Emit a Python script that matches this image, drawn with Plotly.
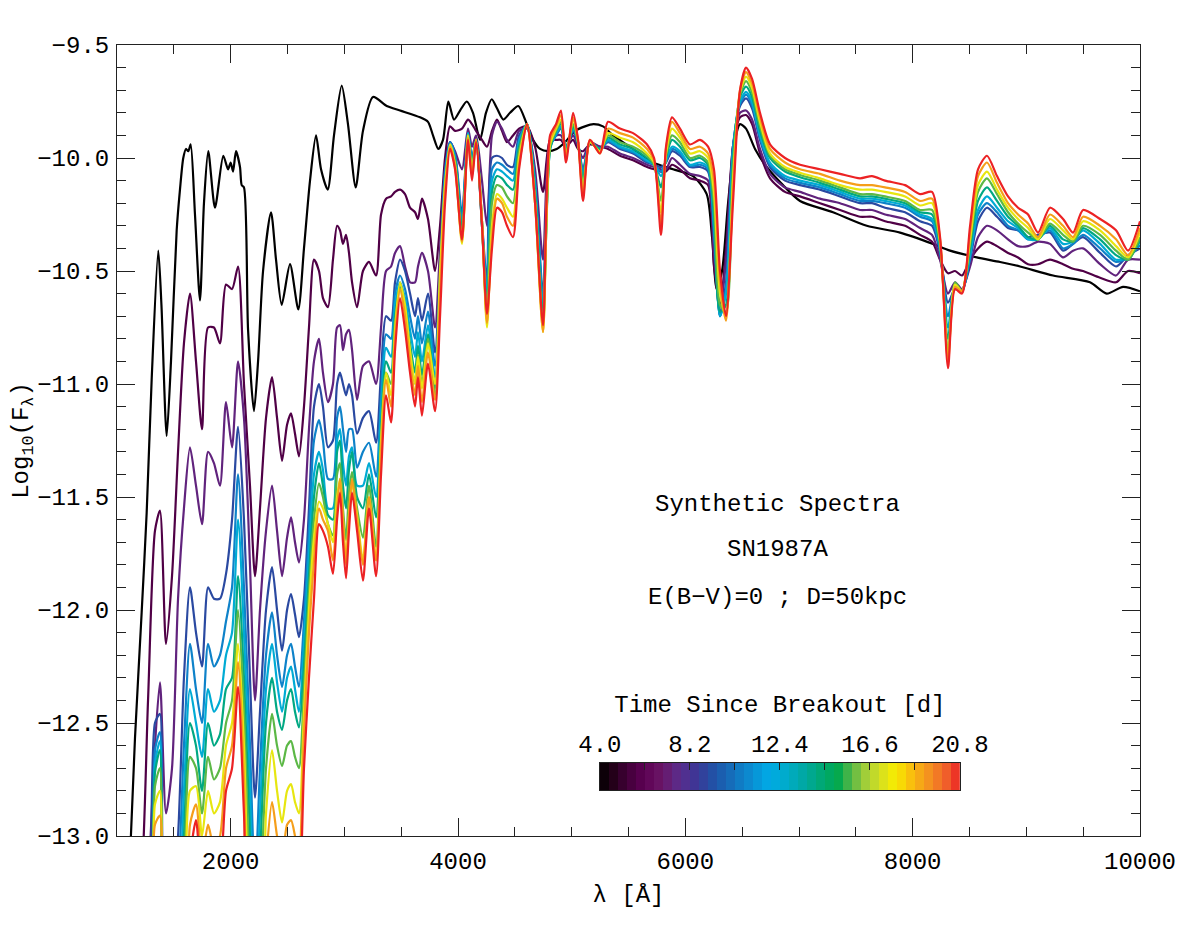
import numpy as np
import plotly.graph_objects as go
from plotly.colors import sample_colorscale

# epochs [days since shock breakout]
days = [4.0, 5.68, 7.36, 9.04, 10.72, 12.4, 14.08, 15.76, 17.44, 19.12, 20.8]

# first epoch (black) has its own sampling
wave_black = [1114, 1158, 1217, 1261, 1305, 1363, 1391, 1437, 1475, 1525,
              1554, 1583, 1607, 1627, 1648, 1686, 1730, 1765, 1803, 1862,
              1935, 1977, 2000, 2021, 2047, 2082, 2097, 2117, 2153, 2205,
              2241, 2285, 2355, 2399, 2449, 2522, 2595, 2645, 2698, 2751,
              2795, 2854, 2909, 2977, 3032, 3100, 3164, 3252, 3373, 3490,
              3666, 3736, 3780, 3827, 3868, 3915, 3965, 4018, 4077, 4132,
              4194, 4246, 4297, 4343, 4399, 4458, 4531, 4605, 4660, 4722,
              4792, 4868, 4941, 5029, 5117, 5191, 5276, 5364, 5540, 5716,
              5892, 6068, 6188, 6235, 6276, 6323, 6376, 6437, 6481, 6534,
              6613, 6716, 6859, 7009, 7299, 7596, 7889, 8179, 8329, 8564,
              8769, 8945, 9235, 9560, 9707, 9851, 10000]
flux_black = [-13.1, -12.57, -12.01, -11.57, -10.98, -10.41, -10.65, -11.23, -10.9, -10.32,
              -10.14, -10.0, -9.96, -9.97, -9.94, -10.25, -10.63, -10.2, -9.97, -10.22,
              -9.99, -10.05, -10.02, -10.06, -9.97, -10.04, -10.12, -10.13, -10.76, -11.12,
              -10.9, -10.5, -10.24, -10.45, -10.65, -10.47, -10.67, -10.4, -10.1, -9.9,
              -10.05, -10.14, -9.9, -9.68, -9.85, -10.13, -9.88, -9.73, -9.77, -9.79,
              -9.82, -9.84, -9.9, -9.96, -9.92, -9.75, -9.83, -9.79, -9.75, -9.8,
              -9.92, -9.8, -9.74, -9.78, -9.83, -9.8, -9.77, -9.85, -9.92, -9.96,
              -9.97, -9.96, -9.93, -9.88, -9.86, -9.85, -9.86, -9.9, -9.96, -10.02,
              -10.05, -10.08, -10.16, -10.35, -10.58, -10.5, -10.2, -9.92, -9.85, -9.87,
              -9.96, -10.04, -10.12, -10.19, -10.24, -10.3, -10.33, -10.38, -10.41, -10.44,
              -10.46, -10.48, -10.52, -10.55, -10.6, -10.57, -10.59]

# wavelength grid [A] shared by the later epochs
wave = [1114, 1202, 1273, 1334, 1378, 1431, 1484, 1537, 1589, 1642,
        1695, 1748, 1801, 1853, 1906, 1959, 2012, 2065, 2117, 2170,
        2214, 2258, 2311, 2364, 2408, 2452, 2496, 2531, 2566, 2601,
        2645, 2689, 2733, 2777, 2812, 2856, 2900, 2936, 2962, 2988,
        3015, 3041, 3068, 3112, 3164, 3217, 3279, 3323, 3367, 3411,
        3446, 3490, 3534, 3578, 3622, 3648, 3683, 3736, 3798, 3842,
        3886, 3930,
        3974, 4035, 4088, 4123, 4159, 4211, 4255, 4299, 4343, 4387,
        4431, 4484, 4537, 4607, 4678, 4748, 4810, 4862, 4906, 4950,
        5012, 5056, 5100, 5161, 5249, 5320, 5425, 5540, 5663, 5725,
        5786, 5830, 5883, 5953, 6041, 6129, 6200, 6252, 6305, 6358,
        6419, 6481, 6534, 6587, 6657, 6745, 6877, 7009, 7185, 7361,
        7537, 7642, 7757, 7933, 8065, 8170, 8241, 8311, 8373, 8434,
        8505, 8575, 8654, 8742, 8839, 8927, 9015, 9103, 9208, 9323,
        9411, 9499, 9649, 9789, 9895, 10000]

# log10 flux, one list per epoch (uv part + near-uv part + optical part)
flux_d05_7 = ([-13.5, -13.3, -12.4, -11.65, -11.56, -12.15, -11.85, -11.3, -10.82, -10.6,
               -10.9, -11.2, -10.75, -10.75, -10.82, -10.56, -10.58, -10.48, -11.0, -11.45,
               -11.85, -11.55, -11.15, -10.97, -11.15, -11.34, -11.18, -11.13, -11.22, -11.32]
              + [-11.1, -10.75, -10.45, -10.5, -10.62, -10.66, -10.45, -10.3, -10.32, -10.38,
                 -10.34, -10.42, -10.55, -10.66, -10.5, -10.46, -10.52, -10.25, -10.18, -10.17,
                 -10.15, -10.14, -10.16, -10.22, -10.24, -10.27, -10.18, -10.27, -10.5, -10.3,
                 -10.0, -9.86]
              + [-9.88, -9.87, -9.83, -9.85, -9.88, -9.92, -9.95, -9.88, -9.83, -9.88,
                 -9.93, -9.9, -9.87, -9.86, -9.95, -10.15, -9.92, -9.92, -9.92, -9.95,
                 -9.92, -9.96, -9.97, -9.94, -9.95, -9.96, -9.99, -10.01, -10.04, -10.05,
                 -10.06, -10.06, -10.03, -10.05, -10.09, -10.1, -10.12, -10.48, -10.65, -10.4,
                 -9.95, -9.82, -9.81, -9.85, -9.98, -10.09, -10.15, -10.17, -10.2, -10.23,
                 -10.26, -10.26, -10.28, -10.3, -10.34, -10.37, -10.45, -10.51, -10.5, -10.52,
                 -10.45, -10.4, -10.37, -10.39, -10.42, -10.44, -10.47, -10.47, -10.45, -10.47,
                 -10.49, -10.5, -10.53, -10.55, -10.5, -10.51])

flux_d07_4 = ([-13.5, -13.5, -13.2, -12.6, -12.32, -12.9, -12.7, -11.95, -11.55, -11.28,
               -11.45, -11.62, -11.3, -11.35, -11.45, -11.08, -11.28, -10.9, -11.15, -11.8,
               -12.4, -12.0, -11.65, -11.45, -11.65, -11.85, -11.68, -11.59, -11.7, -11.79]
              + [-11.6, -11.2, -10.9, -10.8, -10.95, -11.08, -11.0, -10.75, -10.74, -10.85,
                 -10.78, -10.76, -10.85, -11.07, -10.92, -10.9, -11.0, -10.75, -10.5, -10.48,
                 -10.42, -10.39, -10.48, -10.55, -10.55, -10.48, -10.42, -10.5, -10.75, -10.4,
                 -10.05, -9.93]
              + [-9.97, -10.05, -9.87, -9.95, -9.9, -10.1, -10.3, -9.9, -9.84, -9.87,
                 -9.92, -9.95, -9.88, -9.87, -10.05, -10.45, -9.92, -9.9, -9.9, -9.95,
                 -9.9, -9.95, -10.0, -9.93, -9.95, -9.95, -9.98, -10.0, -10.03, -10.04,
                 -10.05, -10.05, -10.0, -10.03, -10.07, -10.08, -10.1, -10.42, -10.68, -10.45,
                 -9.95, -9.8, -9.79, -9.83, -9.96, -10.07, -10.13, -10.15, -10.18, -10.2,
                 -10.23, -10.23, -10.25, -10.27, -10.31, -10.34, -10.45, -10.6, -10.55, -10.58,
                 -10.48, -10.35, -10.3, -10.32, -10.36, -10.39, -10.39, -10.37, -10.38, -10.44,
                 -10.41, -10.4, -10.47, -10.52, -10.45, -10.45])

flux_d09_0 = ([-13.5, -13.5, -13.4, -12.5, -12.46, -13.3, -13.3, -13.0, -12.3, -11.9,
               -12.1, -12.25, -11.9, -11.95, -11.95, -11.84, -11.6, -11.19, -11.6, -12.3,
               -12.83, -12.45, -12.0, -11.81, -12.0, -12.18, -12.0, -11.93, -12.02, -12.12]
              + [-11.95, -11.55, -11.1, -11.0, -11.1, -11.28, -11.25, -11.0, -10.95, -11.0,
                 -11.05, -11.0, -11.05, -11.22, -11.15, -11.12, -11.26, -10.95, -10.7, -10.72,
                 -10.55, -10.45, -10.5, -10.6, -10.7, -10.62, -10.72, -10.6, -10.86, -10.5,
                 -10.05, -9.93]
              + [-9.98, -10.25, -9.89, -10.0, -9.92, -10.28, -10.55, -10.0, -9.99, -10.0,
                 -10.03, -10.04, -9.9, -9.86, -10.1, -10.6, -9.95, -9.9, -9.87, -9.95,
                 -9.88, -9.94, -10.05, -9.93, -9.96, -9.93, -9.96, -9.98, -10.02, -10.03,
                 -10.04, -10.02, -9.97, -9.99, -10.04, -10.04, -10.06, -10.35, -10.7, -10.55,
                 -9.95, -9.77, -9.736, -9.78, -9.92, -10.04, -10.1, -10.12, -10.14, -10.17,
                 -10.2, -10.2, -10.22, -10.24, -10.28, -10.3, -10.42, -10.64, -10.58, -10.59,
                 -10.45, -10.28, -10.22, -10.26, -10.31, -10.32, -10.35, -10.34, -10.33, -10.41,
                 -10.38, -10.35, -10.42, -10.48, -10.43, -10.4])

flux_d10_7 = ([-13.5, -13.5, -13.5, -12.62, -12.54, -13.4, -13.4, -13.2, -12.6, -12.15,
               -12.35, -12.5, -12.15, -12.25, -12.2, -12.05, -11.9, -11.4, -11.9, -12.6,
               -13.2, -12.7, -12.2, -12.01, -12.2, -12.34, -12.2, -12.15, -12.25, -12.34]
              + [-12.05, -11.65, -11.25, -11.16, -11.25, -11.42, -11.42, -11.15, -11.1, -11.2,
                 -11.3, -11.2, -11.2, -11.37, -11.3, -11.26, -11.41, -11.05, -10.78, -10.8,
                 -10.6, -10.52, -10.58, -10.7, -10.8, -10.7, -10.82, -10.68, -10.92, -10.52,
                 -10.07, -9.93]
              + [-9.99, -10.28, -9.89, -10.01, -9.92, -10.29, -10.59, -10.05, -10.02, -10.03,
                 -10.05, -10.07, -9.92, -9.85, -10.11, -10.63, -9.95, -9.9, -9.865, -9.955,
                 -9.875, -9.935, -10.065, -9.93, -9.96, -9.925, -9.955, -9.975, -10.015, -10.03,
                 -10.06, -10.015, -9.96, -9.98, -10.035, -10.03, -10.05, -10.32, -10.7, -10.58,
                 -9.96, -9.76, -9.72, -9.765, -9.91, -10.03, -10.09, -10.11, -10.13, -10.16,
                 -10.19, -10.19, -10.2, -10.22, -10.26, -10.28, -10.41, -10.7, -10.57, -10.59,
                 -10.44, -10.25, -10.2, -10.24, -10.3, -10.32, -10.36, -10.35, -10.32, -10.4,
                 -10.38, -10.34, -10.4, -10.46, -10.44, -10.385])

flux_d12_4 = ([-13.5, -13.5, -13.5, -12.68, -12.58, -13.5, -13.5, -13.4, -12.8, -12.35,
               -12.5, -12.65, -12.35, -12.45, -12.4, -12.2, -12.1, -11.6, -12.1, -12.8,
               -13.4, -12.9, -12.35, -12.15, -12.32, -12.45, -12.3, -12.25, -12.35, -12.45]
              + [-12.15, -11.75, -11.4, -11.3, -11.38, -11.55, -11.55, -11.25, -11.2, -11.35,
                 -11.45, -11.32, -11.28, -11.45, -11.45, -11.35, -11.5, -11.12, -10.84, -10.88,
                 -10.65, -10.55, -10.62, -10.76, -10.88, -10.77, -10.9, -10.74, -10.97, -10.55,
                 -10.09, -9.94]
              + [-10.0, -10.3, -9.89, -10.02, -9.92, -10.3, -10.62, -10.1, -10.05, -10.06,
                 -10.08, -10.1, -9.93, -9.85, -10.12, -10.66, -9.96, -9.89, -9.86, -9.96,
                 -9.87, -9.93, -10.08, -9.93, -9.96, -9.92, -9.95, -9.97, -10.01, -10.03,
                 -10.08, -10.01, -9.95, -9.97, -10.03, -10.02, -10.04, -10.3, -10.7, -10.6,
                 -9.97, -9.75, -9.707, -9.75, -9.9, -10.02, -10.08, -10.1, -10.12, -10.15,
                 -10.18, -10.18, -10.19, -10.21, -10.25, -10.27, -10.4, -10.75, -10.57, -10.59,
                 -10.43, -10.23, -10.17, -10.22, -10.28, -10.31, -10.36, -10.36, -10.31, -10.38,
                 -10.37, -10.32, -10.38, -10.45, -10.44, -10.37])

flux_d14_1 = ([-13.5, -13.5, -13.5, -12.72, -12.62, -13.5, -13.5, -13.5, -13.0, -12.5,
               -12.6, -12.8, -12.5, -12.6, -12.55, -12.35, -12.3, -11.85, -12.3, -13.0,
               -13.5, -13.1, -12.5, -12.3, -12.45, -12.53, -12.4, -12.35, -12.45, -12.52]
              + [-12.25, -11.85, -11.5, -11.35, -11.45, -11.58, -11.6, -11.3, -11.25, -11.45,
                 -11.55, -11.38, -11.3, -11.5, -11.55, -11.4, -11.59, -11.2, -10.9, -10.95,
                 -10.7, -10.57, -10.66, -10.82, -10.95, -10.83, -10.96, -10.78, -11.02, -10.58,
                 -10.11, -9.95]
              + [-10.01, -10.32, -9.9, -10.03, -9.92, -10.3, -10.68, -10.15, -10.08, -10.09,
                 -10.12, -10.14, -9.95, -9.85, -10.15, -10.7, -9.96, -9.88, -9.85, -9.97,
                 -9.86, -9.93, -10.1, -9.93, -9.96, -9.91, -9.94, -9.96, -10.0, -10.03,
                 -10.13, -10.0, -9.92, -9.95, -10.01, -10.0, -10.03, -10.25, -10.68, -10.65,
                 -10.0, -9.73, -9.684, -9.73, -9.88, -10.0, -10.06, -10.085, -10.11, -10.14,
                 -10.17, -10.17, -10.18, -10.2, -10.24, -10.25, -10.39, -10.8, -10.56, -10.59,
                 -10.4, -10.19, -10.13, -10.19, -10.26, -10.3, -10.35, -10.36, -10.3, -10.36,
                 -10.37, -10.31, -10.36, -10.43, -10.45, -10.36])

flux_d15_8 = ([-13.5, -13.5, -13.5, -12.78, -12.7, -13.5, -13.5, -13.5, -13.2, -12.65,
               -12.7, -12.9, -12.65, -12.75, -12.7, -12.5, -12.4, -12.0, -12.45, -13.2,
               -13.5, -13.3, -12.7, -12.46, -12.6, -12.69, -12.6, -12.58, -12.65, -12.7]
              + [-12.35, -11.92, -11.6, -11.44, -11.5, -11.62, -11.67, -11.4, -11.35, -11.55,
                 -11.69, -11.48, -11.39, -11.55, -11.68, -11.45, -11.72, -11.25, -10.95, -11.0,
                 -10.73, -10.58, -10.68, -10.86, -11.0, -10.87, -11.0, -10.8, -11.05, -10.6,
                 -10.12, -9.95]
              + [-10.02, -10.35, -9.9, -10.05, -9.92, -10.28, -10.72, -10.2, -10.12, -10.13,
                 -10.17, -10.2, -9.97, -9.85, -10.18, -10.74, -9.95, -9.88, -9.84, -9.98,
                 -9.85, -9.93, -10.12, -9.93, -9.97, -9.9, -9.93, -9.95, -9.99, -10.03,
                 -10.19, -9.99, -9.9, -9.93, -10.0, -9.99, -10.02, -10.2, -10.65, -10.68,
                 -10.05, -9.72, -9.66, -9.71, -9.86, -9.99, -10.05, -10.075, -10.1, -10.13,
                 -10.16, -10.16, -10.17, -10.19, -10.23, -10.23, -10.38, -10.86, -10.55, -10.59,
                 -10.38, -10.15, -10.09, -10.16, -10.24, -10.29, -10.33, -10.36, -10.29, -10.34,
                 -10.37, -10.3, -10.34, -10.41, -10.45, -10.35])

flux_d17_4 = ([-13.5, -13.5, -13.5, -12.86, -12.8, -13.5, -13.5, -13.5, -13.4, -12.8,
               -12.78, -13.0, -12.8, -12.9, -12.85, -12.6, -12.5, -12.15, -12.6, -13.4,
               -13.5, -13.5, -12.9, -12.62, -12.8, -12.94, -12.8, -12.77, -12.85, -12.9]
              + [-12.45, -12.0, -11.68, -11.52, -11.55, -11.62, -11.7, -11.5, -11.42, -11.6,
                 -11.78, -11.58, -11.44, -11.58, -11.78, -11.5, -11.78, -11.25, -10.95, -11.05,
                 -10.76, -10.55, -10.65, -10.85, -11.0, -10.88, -11.02, -10.82, -11.0, -10.5,
                 -10.12, -9.94]
              + [-10.03, -10.38, -9.9, -10.06, -9.92, -10.28, -10.75, -10.3, -10.16, -10.18,
                 -10.22, -10.26, -10.0, -9.85, -10.2, -10.77, -9.94, -9.87, -9.83, -9.99,
                 -9.83, -9.93, -10.15, -9.93, -9.97, -9.89, -9.91, -9.93, -9.98, -10.02,
                 -10.24, -9.98, -9.87, -9.91, -9.98, -9.97, -10.0, -10.15, -10.6, -10.7,
                 -10.1, -9.71, -9.64, -9.69, -9.84, -9.98, -10.04, -10.065, -10.09, -10.12,
                 -10.14, -10.14, -10.15, -10.17, -10.21, -10.2, -10.37, -10.88, -10.56, -10.59,
                 -10.36, -10.12, -10.06, -10.14, -10.22, -10.27, -10.31, -10.36, -10.27, -10.32,
                 -10.36, -10.28, -10.32, -10.39, -10.44, -10.33])

flux_d19_1 = ([-13.5, -13.5, -13.5, -12.95, -12.91, -13.5, -13.5, -13.5, -13.5, -12.95,
               -12.86, -13.1, -12.95, -13.05, -13.0, -12.7, -12.6, -12.23, -12.75, -13.5,
               -13.5, -13.5, -13.1, -12.85, -13.0, -13.1, -12.95, -12.93, -13.0, -13.1]
              + [-12.55, -12.1, -11.78, -11.55, -11.6, -11.65, -11.78, -11.55, -11.42, -11.6,
                 -11.8, -11.58, -11.42, -11.6, -11.8, -11.5, -11.78, -11.3, -10.98, -11.1,
                 -10.8, -10.58, -10.7, -10.9, -11.05, -10.92, -11.08, -10.86, -11.07, -10.6,
                 -10.15, -9.95]
              + [-10.04, -10.37, -9.91, -10.08, -9.92, -10.28, -10.73, -10.35, -10.18, -10.2,
                 -10.26, -10.3, -10.03, -9.85, -10.2, -10.77, -9.92, -9.86, -9.81, -10.0,
                 -9.82, -9.92, -10.17, -9.92, -9.98, -9.87, -9.89, -9.91, -9.96, -10.01,
                 -10.29, -9.96, -9.84, -9.89, -9.96, -9.95, -9.98, -10.1, -10.55, -10.72,
                 -10.15, -9.7, -9.62, -9.67, -9.82, -9.96, -10.02, -10.05, -10.07, -10.1,
                 -10.12, -10.12, -10.13, -10.15, -10.19, -10.18, -10.36, -10.9, -10.57, -10.59,
                 -10.33, -10.08, -10.02, -10.11, -10.2, -10.25, -10.29, -10.35, -10.25, -10.3,
                 -10.35, -10.26, -10.3, -10.36, -10.43, -10.31])

flux_d20_8 = ([-13.5, -13.5, -13.5, -13.1, -13.05, -13.5, -13.5, -13.5, -13.5, -13.1,
               -12.93, -13.2, -13.1, -13.2, -13.15, -12.8, -12.7, -12.34, -12.9, -13.5,
               -13.5, -13.5, -13.3, -13.05, -13.2, -13.3, -13.15, -13.1, -13.2, -13.3]
              + [-12.7, -12.3, -11.95, -11.62, -11.65, -11.72, -11.84, -11.6, -11.48, -11.7,
                 -11.86, -11.65, -11.48, -11.65, -11.87, -11.55, -11.85, -11.4, -11.05, -11.17,
                 -10.85, -10.62, -10.76, -10.95, -11.1, -10.97, -11.14, -10.91, -11.12, -10.7,
                 -10.2, -9.96]
              + [-10.05, -10.36, -9.92, -10.1, -9.93, -10.3, -10.69, -10.4, -10.22, -10.24,
                 -10.3, -10.35, -10.05, -9.85, -10.2, -10.74, -9.9, -9.85, -9.79, -10.02,
                 -9.8, -9.92, -10.19, -9.92, -9.98, -9.84, -9.87, -9.89, -9.94, -10.0,
                 -10.34, -9.95, -9.82, -9.87, -9.94, -9.92, -9.95, -10.05, -10.5, -10.7,
                 -10.2, -9.7, -9.6, -9.65, -9.8, -9.94, -10.0, -10.03, -10.05, -10.07,
                 -10.09, -10.08, -10.1, -10.12, -10.16, -10.15, -10.35, -10.93, -10.58, -10.6,
                 -10.3, -10.05, -9.99, -10.08, -10.17, -10.22, -10.25, -10.33, -10.22, -10.27,
                 -10.33, -10.23, -10.27, -10.32, -10.41, -10.28])

later_fluxes = [flux_d05_7, flux_d07_4, flux_d09_0, flux_d10_7, flux_d12_4,
                flux_d14_1, flux_d15_8, flux_d17_4, flux_d19_1, flux_d20_8]

# rainbow table like the idl one in the colour bar
time_colors = [
    [0.0, "#000000"], [0.03, "#1e0012"], [0.07, "#3d0035"], [0.12, "#5c0052"],
    [0.17, "#6a1566"], [0.22, "#5b2c8c"], [0.27, "#3b3796"], [0.32, "#1f55a8"],
    [0.37, "#1470bc"], [0.42, "#0a8ed2"], [0.47, "#00aae6"], [0.52, "#00abc8"],
    [0.57, "#00a8a0"], [0.62, "#00a870"], [0.66, "#00a84e"], [0.70, "#5cb846"],
    [0.74, "#a6cf38"], [0.78, "#d6e020"], [0.82, "#f8ec00"], [0.86, "#f9c20c"],
    [0.91, "#f4951e"], [0.96, "#f0622a"], [1.0, "#ec2224"],
]
t_min, t_max = days[0], days[-1]
bar_ticks = [4.0, 8.2, 12.4, 16.6, 20.8]

FONT = "Liberation Mono"
FS = 24

fig = go.Figure()

fig.add_trace(go.Scatter(x=wave_black, y=flux_black, mode="lines",
                         line=dict(color="black", width=2.2, shape="spline", smoothing=0.7),
                         hoverinfo="skip"))

for day, flux in zip(days[1:], later_fluxes):
    assert len(flux) == len(wave)
    col = sample_colorscale(time_colors, [(day - t_min) / (t_max - t_min)])[0]
    fig.add_trace(go.Scatter(x=wave, y=flux, mode="lines",
                             line=dict(color=col, width=2.2, shape="spline", smoothing=0.7),
                             name=f"{day:.1f} d", hoverinfo="skip"))

# colour bar drawn as a one-row heatmap on its own small axes
bar_edges = np.linspace(t_min, t_max, 41)
bar_mid = 0.5 * (bar_edges[1:] + bar_edges[:-1])
fig.add_trace(go.Heatmap(x=bar_edges, y=[0.0, 1.0], z=[bar_mid],
                         colorscale=time_colors, zmin=t_min, zmax=t_max,
                         showscale=False, hoverinfo="skip",
                         xaxis="x2", yaxis="y2"))

axis_common = dict(showline=True, linecolor="#222", linewidth=1, mirror="allticks",
                   ticks="inside", tickcolor="#222", tickwidth=1, ticklen=18,
                   showgrid=False, zeroline=False, automargin=False,
                   tickfont=dict(family=FONT, size=FS, color="black"))

# margins allow for the 8px page margin of the html body
fig.update_layout(
    width=1199, height=931,
    margin=dict(l=109, r=67, t=37, b=103),
    paper_bgcolor="white", plot_bgcolor="white",
    showlegend=False,
    font=dict(family=FONT, size=FS, color="black"),
    xaxis=dict(range=[1000, 10000], tick0=0, dtick=2000, tickformat="d",
               ticklabelstandoff=3,
               minor=dict(dtick=500, ticks="inside", ticklen=9, tickcolor="#222"),
               title=dict(text="λ [Å]", font=dict(family=FONT, size=FS), standoff=10),
               **axis_common),
    yaxis=dict(range=[-13.0, -9.5], tick0=-13, dtick=0.5, tickformat=".1f",
               ticklabelstandoff=2,
               minor=dict(dtick=0.1, ticks="inside", ticklen=9, tickcolor="#222"),
               title=dict(text="Log<sub>10</sub>(F<sub>λ</sub>)",
                          font=dict(family=FONT, size=FS), standoff=17),
               **axis_common),
    xaxis2=dict(domain=[0.472, 0.824], anchor="y2", side="top",
                range=[t_min, t_max], tickvals=bar_ticks,
                ticktext=[f"{v:.1f}" for v in bar_ticks],
                ticks="inside", ticklen=7, tickcolor="#222",
                minor=dict(tick0=4.0, dtick=2.1, ticks="inside", ticklen=7, tickcolor="#222"),
                showline=True, linecolor="#222", mirror=True, showgrid=False,
                zeroline=False, ticklabelstandoff=0, automargin=False,
                tickfont=dict(family=FONT, size=FS, color="black"),
                title=dict(text="Time Since Breakout [d]",
                           font=dict(family=FONT, size=FS), standoff=12)),
    yaxis2=dict(domain=[0.058, 0.0923], anchor="x2", range=[0, 1],
                showticklabels=False, ticks="", showgrid=False, zeroline=False,
                showline=True, linecolor="#222", mirror=True, automargin=False),
)

notes = ["Synthetic Spectra", "SN1987A", "E(B−V)=0 ; D=50kpc"]
note_y = [0.4185, 0.3616, 0.3009]
for txt, yy in zip(notes, note_y):
    fig.add_annotation(text=txt, x=0.646, y=yy, xref="paper", yref="paper",
                       xanchor="center", yanchor="middle", showarrow=False,
                       font=dict(family=FONT, size=FS, color="black"))

fig.write_html("out.html")
